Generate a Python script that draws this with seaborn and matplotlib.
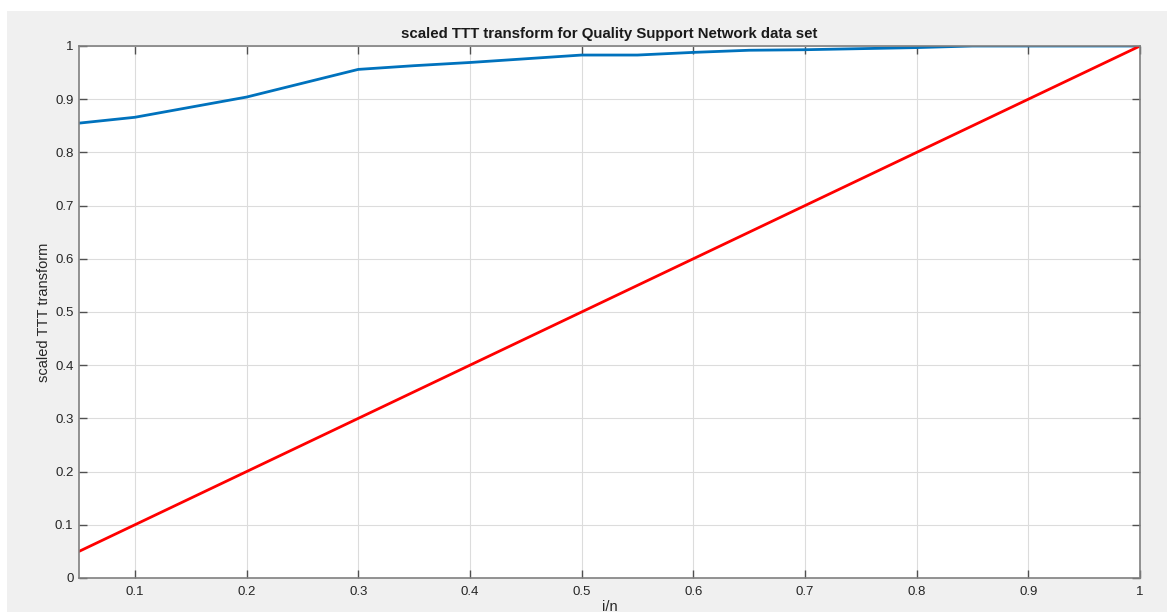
import numpy as np
import pandas as pd
import seaborn as sns
import matplotlib.pyplot as plt
from matplotlib.patches import Rectangle

# i/n values and the scaled TTT transform
i_over_n = [0.05, 0.10, 0.15, 0.20, 0.25, 0.30, 0.35, 0.40, 0.45, 0.50,
            0.55, 0.60, 0.65, 0.70, 0.75, 0.80, 0.85, 0.90, 0.95, 1.00]
ttt = [0.855, 0.866, 0.885, 0.904, 0.930, 0.956, 0.963, 0.969, 0.976, 0.983,
       0.983, 0.988, 0.992, 0.993, 0.995, 0.997, 1.000, 1.000, 1.000, 1.000]
# reference diagonal (exponential case)
diag_x = [0.05, 1.00]
diag_y = [0.05, 1.00]

x_ticks = [0.1, 0.2, 0.3, 0.4, 0.5, 0.6, 0.7, 0.8, 0.9, 1.0]
x_ticklabels = ['0.1', '0.2', '0.3', '0.4', '0.5', '0.6', '0.7', '0.8', '0.9', '1']
y_ticks = [0, 0.1, 0.2, 0.3, 0.4, 0.5, 0.6, 0.7, 0.8, 0.9, 1.0]
y_ticklabels = ['0', '0.1', '0.2', '0.3', '0.4', '0.5', '0.6', '0.7', '0.8', '0.9', '1']

sns.set_theme(style="ticks")
plt.rcParams['font.family'] = ['Liberation Sans', 'DejaVu Sans']

W, H = 1167, 612
fig = plt.figure(figsize=(W / 100, H / 100), dpi=100)
fig.set_facecolor('white')
fig.add_artist(Rectangle((7 / W, 0), 1, (H - 11) / H, transform=fig.transFigure,
                         facecolor='#f0f0f0', edgecolor='none', zorder=-1))

ax = fig.add_axes([79 / W, 1 - 578 / H, (1140 - 79) / W, (578 - 46) / H])
ax.set_facecolor('white')

df = pd.DataFrame({'x': i_over_n, 'y': ttt})
sns.lineplot(data=df, x='x', y='y', ax=ax, color='#0072BD', linewidth=2.0)
sns.lineplot(x=diag_x, y=diag_y, ax=ax, color='#FF0000', linewidth=2.0)

ax.set_xlim(0.05, 1.0)
ax.set_ylim(0, 1)
ax.set_xticks(x_ticks)
ax.set_xticklabels(x_ticklabels)
ax.set_yticks(y_ticks)
ax.set_yticklabels(y_ticklabels)
ax.grid(True, color='#dcdcdc', linewidth=0.8)
ax.set_axisbelow(True)

for s in ax.spines.values():
    s.set_color('#808080')
    s.set_linewidth(1.2)
ax.tick_params(direction='in', length=6, width=1.0, color='#505050',
               labelsize=9.5, labelcolor='#262626', top=True, right=True)
ax.tick_params(axis='x', pad=6)
ax.tick_params(axis='y', pad=4)

ax.set_title('scaled TTT transform for Quality Support Network data set',
             fontsize=10.8, fontweight='bold', color='#1a1a1a', pad=6)
ax.set_xlabel('i/n', fontsize=10.5, color='#262626', labelpad=1)
ax.set_ylabel('scaled TTT transform', fontsize=10.5, color='#262626', labelpad=3)

fig.savefig('out.png', dpi=100, facecolor=fig.get_facecolor())
